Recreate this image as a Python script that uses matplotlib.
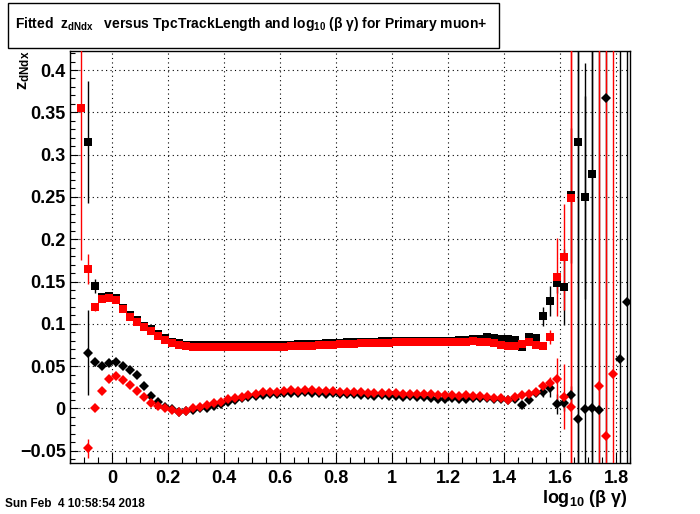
import numpy as np
import matplotlib
matplotlib.use('Agg')
import matplotlib.pyplot as plt
from matplotlib.patches import Rectangle
from matplotlib.ticker import MultipleLocator

plt.rcParams['font.family'] = ['Liberation Sans', 'DejaVu Sans']
plt.rcParams['font.weight'] = 'bold'
plt.rcParams['mathtext.fontset'] = 'custom'
plt.rcParams['mathtext.rm'] = 'Liberation Sans:bold'
plt.rcParams['mathtext.it'] = 'Liberation Sans:bold'
plt.rcParams['mathtext.bf'] = 'Liberation Sans:bold'

nan = np.nan

# histogram binning in log10(beta gamma)
x_lo, x_hi, n_bins = -0.15, 1.85, 80

# black squares
black_sq = [nan, nan, 0.315, 0.145, 0.132, 0.133, 0.130, 0.119, 0.110, 0.104,
            0.098, 0.094, 0.088, 0.083, 0.079, 0.077, 0.0755, 0.075, 0.0748, 0.0746,
            0.0745, 0.0745, 0.0745, 0.0745, 0.0745, 0.0745, 0.0746, 0.0747, 0.0748, 0.0750,
            0.0752, 0.0755, 0.0757, 0.0760, 0.0762, 0.0765, 0.0768, 0.0770, 0.0775, 0.0780,
            0.0782, 0.0785, 0.0788, 0.0790, 0.0792, 0.0795, 0.0797, 0.0798, 0.0800, 0.0800,
            0.0798, 0.0795, 0.0793, 0.0795, 0.0800, 0.0805, 0.0810, 0.0815, 0.0820, 0.0840,
            0.0830, 0.0820, 0.0820, 0.0810, 0.0730, 0.0840, 0.0835, 0.109, 0.1267, 0.148,
            0.144, 0.252, 0.3146, 0.2497, 0.2768, nan, nan, nan, nan, nan]
black_sq_err = [0, 0, 0.072, 0.008, 0.004, 0.003, 0.003, 0.003, 0.003, 0.003,
                0.003] + [0.001] * 56 + [0.011, 0.018, 0.012,
                0.045, 0.08, 0.5, 0.12, 0.5, 0, 0, 0, 0, 0]

# red squares
red_sq = [nan, 0.355, 0.165, 0.120, 0.129, 0.131, 0.128, 0.1176, 0.108, 0.102,
          0.096, 0.092, 0.0857, 0.081, 0.077, 0.075, 0.0735, 0.073, 0.0728, 0.0726,
          0.0725, 0.0725, 0.0725, 0.0725, 0.0725, 0.0725, 0.0727, 0.0728, 0.0729, 0.0730,
          0.0732, 0.0735, 0.0737, 0.0740, 0.0742, 0.0745, 0.0748, 0.0750, 0.0758, 0.0762,
          0.0765, 0.0768, 0.0770, 0.0772, 0.0775, 0.0778, 0.0780, 0.0780, 0.0782, 0.0783,
          0.0785, 0.0783, 0.0780, 0.0782, 0.0785, 0.0788, 0.0790, 0.0792, 0.0790, 0.0790,
          0.0770, 0.0750, 0.0735, 0.0740, 0.0760, 0.0780, 0.0750, 0.0740, 0.0845, 0.155,
          0.179, 0.2485, nan, nan, nan, nan, nan, nan, nan, nan]
red_sq_err = [0, 0.18, 0.018, 0.005, 0.003, 0.003, 0.003, 0.003, 0.003, 0.003,
              0.003] + [0.001] * 57 + [0.008, 0.046,
              0.063, 0.5, 0, 0, 0, 0, 0, 0, 0, 0]

# black diamonds
black_dm = [nan, nan, 0.066, 0.0546, 0.0506, 0.054, 0.0553, 0.050, 0.0455, 0.0396,
            0.027, 0.0148, 0.0073, 0.002, -0.001, -0.004, -0.0035, -0.002, 0.000, 0.001,
            0.003, 0.005, 0.008, 0.010, 0.012, 0.013, 0.015, 0.016, 0.0165, 0.017,
            0.018, 0.018, 0.018, 0.019, 0.018, 0.018, 0.0175, 0.018, 0.017, 0.0165,
            0.017, 0.016, 0.0155, 0.015, 0.0155, 0.015, 0.0145, 0.014, 0.0145, 0.014,
            0.013, 0.012, 0.011, 0.0115, 0.012, 0.011, 0.0115, 0.012, 0.012, 0.012,
            0.011, 0.011, 0.010, 0.011, 0.004, 0.010, 0.0187, 0.020, 0.024, 0.0053,
            0.007, 0.016, -0.0128, -0.001, 0.001, -0.002, 0.3667, nan, 0.058, 0.126]
black_dm_err = [0, 0, 0.05, 0.004] + [0.001] * 63 + [0.007, 0.01, 0.012,
                0.01, 0.01, 0.5, 0.409, 0.5, 0.5, 0.5, 0, 0.5, 0.5]

# red diamonds
red_dm = [nan, nan, -0.047, 0.000, 0.021, 0.0345, 0.0384, 0.0337, 0.0274, 0.021,
          0.0132, 0.006, 0.003, 0.000, -0.002, -0.0038, -0.0028, 0.000, 0.002, 0.0035,
          0.006, 0.0079, 0.0106, 0.0125, 0.014, 0.016, 0.0175, 0.019, 0.0195, 0.020,
          0.021, 0.0215, 0.021, 0.022, 0.0215, 0.021, 0.021, 0.0205, 0.020, 0.0195,
          0.0195, 0.019, 0.0185, 0.018, 0.018, 0.0185, 0.018, 0.0175, 0.0175, 0.017,
          0.017, 0.0165, 0.016, 0.016, 0.016, 0.015, 0.0155, 0.015, 0.0145, 0.014,
          0.0125, 0.012, 0.010, 0.013, 0.0155, 0.017, 0.020, 0.0266, 0.0305, 0.0345,
          0.014, 0.002, nan, nan, nan, 0.0266, -0.0325, 0.0404, nan, nan]
red_dm_err = [0, 0, 0.011, 0.002] + [0.001] * 64 + [0.007, 0.025,
              0.038, 0.5, 0, 0, 0, 0.5, 0.5, 0.5, 0, 0]

x_centers = x_lo + (np.arange(n_bins) + 0.5) * (x_hi - x_lo) / n_bins

fig = plt.figure(figsize=(7.0, 5.14), dpi=100)
ax = fig.add_axes([0.1, 0.1, 0.8, 0.8])

series = [
    (black_sq, black_sq_err, 's', 6.2, 'black'),
    (black_dm, black_dm_err, 'D', 5.6, 'black'),
    (red_sq, red_sq_err, 's', 6.2, 'red'),
    (red_dm, red_dm_err, 'D', 5.6, 'red'),
]
for vals, errs, mk, ms, col in series:
    ax.errorbar(x_centers, vals, yerr=errs, fmt=mk, ms=ms, color=col,
                mec=col, mew=0, elinewidth=1.0, capsize=0, zorder=3)

ax.set_xlim(x_lo, x_hi)
ax.set_ylim(-0.064, 0.422)

ax.xaxis.set_major_locator(MultipleLocator(0.2))
ax.xaxis.set_minor_locator(MultipleLocator(0.05))
ax.yaxis.set_major_locator(MultipleLocator(0.05))
ax.yaxis.set_minor_locator(MultipleLocator(0.01))
ax.xaxis.set_major_formatter(matplotlib.ticker.FuncFormatter(lambda v, p: '%g' % round(v, 2)))
ax.yaxis.set_major_formatter(matplotlib.ticker.FuncFormatter(lambda v, p: ('%g' % round(v, 2)).replace('-', '\u2212')))

ax.tick_params(axis='x', which='major', direction='in', length=8, width=0.8, labelsize=13, pad=5)
ax.tick_params(axis='x', which='minor', direction='in', length=4, width=0.8)
ax.tick_params(axis='y', which='major', direction='in', length=5.5, width=0.8, labelsize=13, pad=3)
ax.tick_params(axis='y', which='minor', direction='in', length=3.5, width=0.8)
for lab in ax.get_xticklabels() + ax.get_yticklabels():
    lab.set_fontweight('bold')

ax.grid(True, which='major', color='black', linestyle=(0, (1, 3)), linewidth=0.8)
ax.set_axisbelow(True)
for s in ax.spines.values():
    s.set_linewidth(1.0)

# title box
fig.patches.append(Rectangle((8 / 700, 1 - 48 / 514), 491 / 700, 45 / 514,
                             transform=fig.transFigure, facecolor='white',
                             edgecolor='black', linewidth=1.0))
fig.text(251 / 700, 1 - 28 / 514,
         r'Fitted  z$_{\mathrm{dNdx}}$   versus TpcTrackLength and log$_{\mathrm{10}}$ (β γ) for Primary muon+',
         ha='center', va='baseline', fontsize=10, fontweight='bold')

# axis titles
fig.text(24 / 700, 1 - 51 / 514, r'z$_{\mathrm{dNdx}}$', rotation=90,
         ha='center', va='top', fontsize=12, fontweight='bold')
fig.text(628 / 700, 1 - 503 / 514, r'log$_{\mathrm{10}}$ (β γ)',
         ha='right', va='baseline', fontsize=13, fontweight='bold')

# date stamp
fig.text(5 / 700, 1 - 507 / 514, 'Sun Feb  4 10:58:54 2018',
         ha='left', va='baseline', fontsize=8.5, fontweight='bold')

fig.savefig('out.png', dpi=100)
